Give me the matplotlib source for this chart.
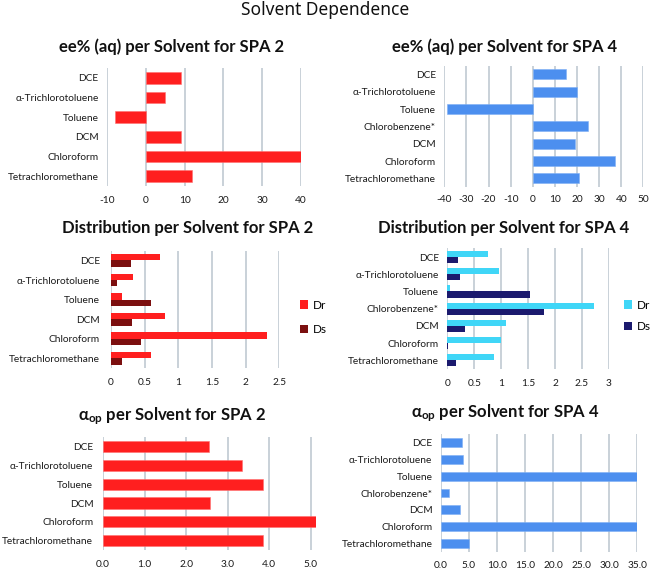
import matplotlib
matplotlib.use("Agg")
import matplotlib.pyplot as plt
import numpy as np

plt.rcParams['font.family'] = ['Lato', 'DejaVu Sans']
plt.rcParams['mathtext.fontset'] = 'custom'
plt.rcParams['mathtext.rm'] = 'Lato:bold'
plt.rcParams['mathtext.it'] = 'Lato:bold'
plt.rcParams['mathtext.bf'] = 'Lato:bold'
plt.rcParams['axes.unicode_minus'] = False

# ---------------- data ----------------
solvents2 = ["DCE", "α-Trichlorotoluene", "Toluene", "DCM", "Chloroform", "Tetrachloromethane"]
solvents4 = ["DCE", "α-Trichlorotoluene", "Toluene", "Chlorobenzene*", "DCM", "Chloroform", "Tetrachloromethane"]

ee2 = [9, 5, -8, 9, 40, 12]
ee4 = [15, 20, -39, 25, 19, 37, 21]

dr2 = [0.73, 0.32, 0.16, 0.80, 2.31, 0.60]
ds2 = [0.29, 0.09, 0.60, 0.31, 0.45, 0.16]

dr4 = [0.76, 0.96, 0.05, 2.73, 1.09, 0.99, 0.87]
ds4 = [0.20, 0.24, 1.54, 1.80, 0.32, 0.02, 0.17]

aop2 = [2.54, 3.35, 3.85, 2.57, 5.12, 3.85]
aop4 = [3.8, 4.0, 35.0, 1.5, 3.45, 34.9, 5.06]

# ---------------- style ----------------
RED = '#FF1F1F'
DARKRED = '#7B0F0F'
BLUE = '#4C8FEF'
CYAN = '#40D6F7'
NAVY = '#1B1A6E'
GRID = '#C5CED6'

W, H = 651, 570
fig = plt.figure(figsize=(W / 100, H / 100), dpi=100)


def px_axes(left, right, top, bottom):
    return fig.add_axes([left / W, 1 - bottom / H, (right - left) / W, (bottom - top) / H])


def style(ax, n, labels, xlim, xticks, fmt=None, xpad=7, ypad=6):
    ax.set_xlim(*xlim)
    ax.set_ylim(n - 0.5, -0.5)
    ax.set_yticks(np.arange(n))
    ax.set_yticklabels(labels)
    ax.set_xticks(xticks)
    if fmt:
        ax.set_xticklabels([fmt.format(t) for t in xticks])
    for s in ax.spines.values():
        s.set_visible(False)
    ax.tick_params(axis='both', length=0, labelsize=7.3, colors='#1a1a1a')
    ax.tick_params(axis='x', pad=xpad)
    ax.tick_params(axis='y', pad=ypad)
    ax.xaxis.grid(True, color=GRID, linewidth=1.3)
    ax.set_axisbelow(True)


def ftitle(x, y, s):
    fig.text(x / W, 1 - y / H, s, ha='center', va='center', fontsize=12, fontweight='bold', color='#111111')


fig.text(0.5, 1 - 10 / H, "Solvent Dependence", ha='center', va='center', fontsize=12.5,
         family=['Noto Sans', 'DejaVu Sans'], color='#111111')

# Panel 1: ee% SPA 2
ax1 = px_axes(107, 301, 68, 186)
y = np.arange(len(solvents2))
ax1.barh(y, ee2, height=0.6, color=RED, edgecolor='#FF7070', linewidth=0.4)
style(ax1, len(solvents2), solvents2, (-10, 40), np.arange(-10, 41, 10))
ftitle(171.7, 47, "ee% (aq) per Solvent for SPA 2")

# Panel 2: ee% SPA 4
ax2 = px_axes(444.3, 643.3, 65.7, 187)
y = np.arange(len(solvents4))
ax2.barh(y, ee4, height=0.58, color=BLUE, edgecolor='#7FB0F5', linewidth=0.4)
style(ax2, len(solvents4), solvents4, (-40, 50), np.arange(-40, 51, 10), xpad=6)
ftitle(505, 47, "ee% (aq) per Solvent for SPA 4")

# Panel 3: Distribution SPA 2
ax3 = px_axes(111, 279.3, 250.7, 368)
y = np.arange(len(solvents2))
h = 0.33
b1 = ax3.barh(y - h / 2, dr2, height=h, color=RED, label='Dr')
b2 = ax3.barh(y + h / 2, ds2, height=h, color=DARKRED, label='Ds')
style(ax3, len(solvents2), solvents2, (0, 2.5), [0, 0.5, 1, 1.5, 2, 2.5], ypad=8)
ax3.set_xticklabels(['0', '0.5', '1', '1.5', '2', '2.5'])
ftitle(188, 228, "Distribution per Solvent for SPA 2")
ax3.legend(handles=[b1, b2], loc='center left', bbox_to_anchor=(300 / W, 1 - 317.3 / H),
           bbox_transform=fig.transFigure, frameon=False, fontsize=8.5,
           handlelength=0.7, handleheight=0.7, handletextpad=0.35, labelspacing=1.15,
           borderpad=0, borderaxespad=0)

# Panel 4: Distribution SPA 4
ax4 = px_axes(447.3, 609, 248.4, 369)
y = np.arange(len(solvents4))
h = 0.35
c1 = ax4.barh(y - h / 2, dr4, height=h, color=CYAN, label='Dr')
c2 = ax4.barh(y + h / 2, ds4, height=h, color=NAVY, label='Ds')
style(ax4, len(solvents4), solvents4, (0, 3), [0, 0.5, 1, 1.5, 2, 2.5, 3], ypad=6)
ax4.set_xticklabels(['0', '0.5', '1', '1.5', '2', '2.5', '3'])
ftitle(504, 228.3, "Distribution per Solvent for SPA 4")
ax4.legend(handles=[c1, c2], loc='center left', bbox_to_anchor=(624 / W, 1 - 316 / H),
           bbox_transform=fig.transFigure, frameon=False, fontsize=8.5,
           handlelength=0.7, handleheight=0.7, handletextpad=0.35, labelspacing=0.9,
           borderpad=0, borderaxespad=0)

# Panel 5: alpha_op SPA 2
ax5 = px_axes(103, 315.7, 437.3, 550)
y = np.arange(len(solvents2))
ax5.barh(y, aop2, height=0.6, color=RED, edgecolor='#FF7070', linewidth=0.4)
style(ax5, len(solvents2), solvents2, (0, 5.12), np.arange(0, 5.01, 1.0), fmt="{:.1f}", ypad=7)
ftitle(172, 416, r"$\alpha_{op}$ per Solvent for SPA 2")

# Panel 6: alpha_op SPA 4
ax6 = px_axes(440.7, 637.3, 434.3, 551.7)
y = np.arange(len(solvents4))
ax6.barh(y, aop4, height=0.52, color=BLUE, edgecolor='#7FB0F5', linewidth=0.4)
style(ax6, len(solvents4), solvents4, (0, 35), np.arange(0, 35.1, 5), fmt="{:.1f}", ypad=6)
ftitle(505, 413, r"$\alpha_{op}$ per Solvent for SPA 4")

fig.savefig("out.png", dpi=100)
